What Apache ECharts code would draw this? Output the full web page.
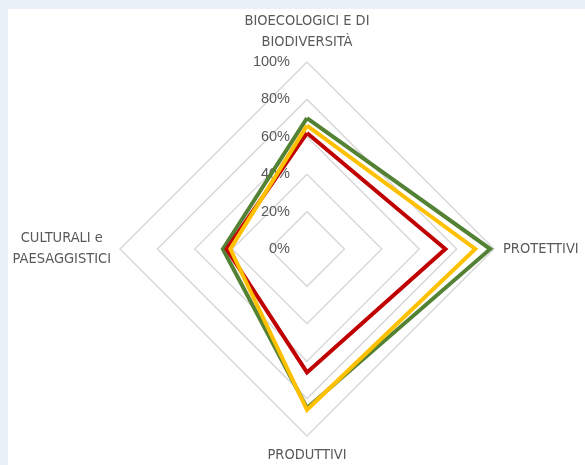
<!DOCTYPE html>
<html>
<head>
<meta charset="utf-8">
<script src="https://cdn.jsdelivr.net/npm/echarts@6/dist/echarts.min.js"></script>
<style>
  html, body { margin: 0; padding: 0; }
  body { width: 585px; height: 465px; background: #eaf1f9; position: relative; overflow: hidden; }
  #panel { position: absolute; left: 8px; top: 9px; right: 0; bottom: 0; background: #ffffff; }
  #chart { position: absolute; left: 0; top: 0; width: 585px; height: 465px; }
</style>
</head>
<body>
<div id="panel"></div>
<div id="chart"></div>
<script>
// Service categories in radar order (ECharts lays indicators out
// counter-clockwise from the top): top, left, bottom, right
const categories = [
  'BIOECOLOGICI E DI\nBIODIVERSITÀ',
  'CULTURALI e\nPAESAGGISTICI',
  'PRODUTTIVI',
  'PROTETTIVI'
];
// Scale ticks (percent)
const tickValues = [0, 20, 40, 60, 80, 100];

// Series values, percent, same order as categories
const greenValues = [70, 45, 85, 98];
const redValues = [62, 43, 66, 74];
const yellowValues = [66, 41, 86, 90];

const seriesDefs = [
  { name: 'green', values: greenValues, color: '#548235' },
  { name: 'red', values: redValues, color: '#c00000' },
  { name: 'yellow', values: yellowValues, color: '#ffc000' }
];

const chart = echarts.init(document.getElementById('chart'), null, { renderer: 'canvas' });

const nameFont = '"Liberation Sans Narrow", "DejaVu Sans Condensed", "Liberation Sans", sans-serif';

chart.setOption({
  animation: false,
  radar: {
    center: [307, 249],
    radius: 187,
    shape: 'polygon',
    splitNumber: tickValues.length - 1,
    startAngle: 90,
    indicator: categories.map(function (c) {
      return { name: c, min: tickValues[0], max: tickValues[tickValues.length - 1] };
    }),
    nameGap: 9,
    axisName: {
      color: '#595959',
      fontFamily: nameFont,
      fontSize: 14.5,
      lineHeight: 21,
      formatter: function (n) { return '{c|' + n + '}'; },
      rich: {
        c: { align: 'center', color: '#595959', fontFamily: nameFont, fontSize: 14.5, lineHeight: 21 }
      }
    },
    axisLine: { show: false },
    axisTick: { show: false },
    splitArea: { show: false },
    splitLine: { lineStyle: { color: '#d9d9d9', width: 1.5 } }
  },
  series: [{
    type: 'radar',
    symbol: 'none',
    data: seriesDefs.map(function (s) {
      return {
        name: s.name,
        value: s.values,
        lineStyle: { color: s.color, width: 4, join: 'miter' },
        itemStyle: { color: s.color }
      };
    })
  }]
});

// Percentage labels along the upper axis, placed through the radar's own scale
const radarModel = chart.getModel().getComponent('radar');
const coordSys = radarModel.coordinateSystem;
const labelGraphics = tickValues.map(function (v) {
  const pt = coordSys.dataToPoint(v, 0);
  return {
    type: 'text',
    x: pt[0] - 17,
    y: pt[1],
    style: {
      text: v + '%',
      fill: '#595959',
      font: '14.5px "Liberation Sans", Arial, sans-serif',
      textAlign: 'right',
      textVerticalAlign: 'middle'
    },
    z: 1
  };
});
chart.setOption({ graphic: labelGraphics });
</script>
</body>
</html>
